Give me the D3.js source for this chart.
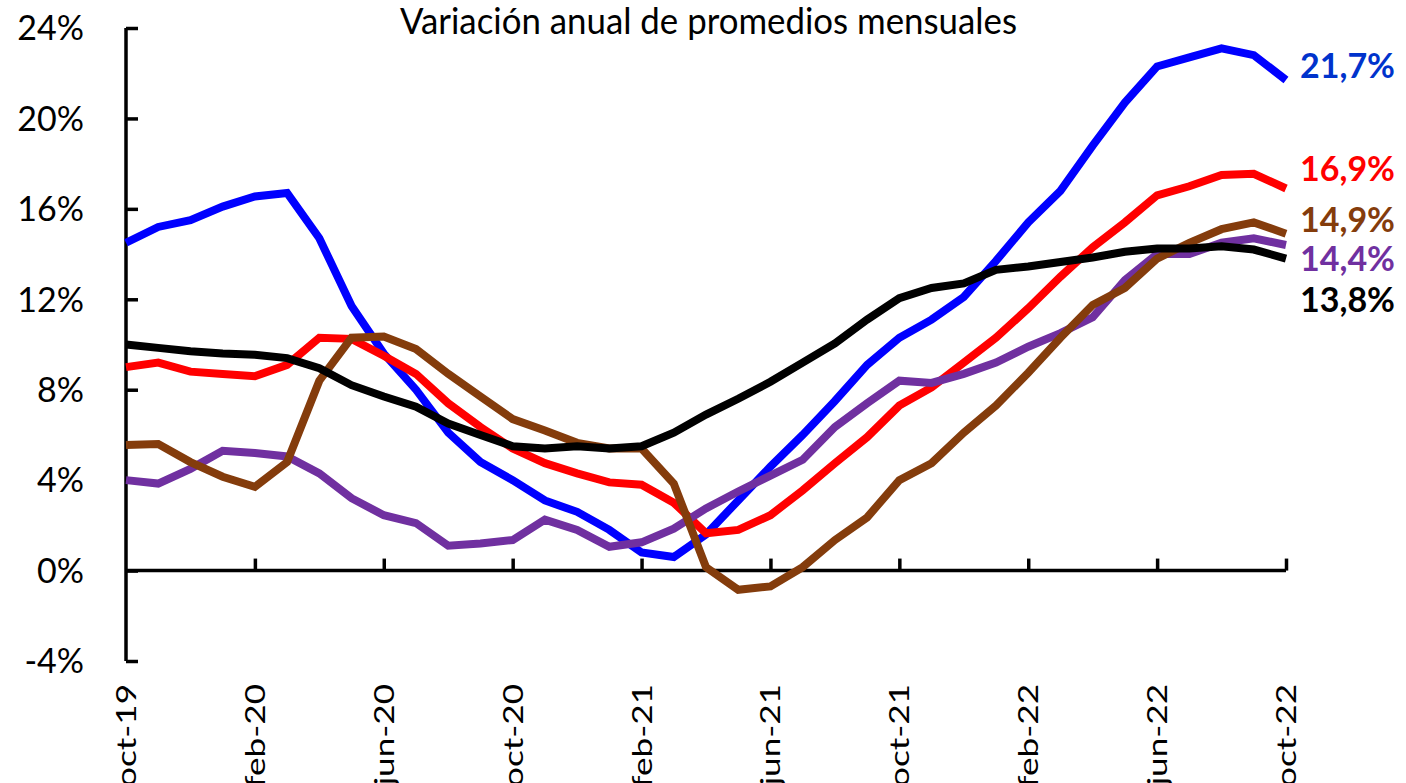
<!DOCTYPE html>
<html lang="es">
<head>
<meta charset="utf-8">
<script src="https://cdn.jsdelivr.net/npm/d3@7"></script>
<style>
  html, body { margin: 0; padding: 0; background: #fff; }
  svg { display: block; font-family: Lato, "Open Sans", sans-serif; }
</style>
</head>
<body>
<svg id="chart" width="1406" height="783"></svg>
<script>
// Meses (oct-19 a oct-22)
const meses = [
  "oct-19","nov-19","dic-19","ene-20","feb-20","mar-20","abr-20","may-20","jun-20","jul-20","ago-20","sep-20",
  "oct-20","nov-20","dic-20","ene-21","feb-21","mar-21","abr-21","may-21","jun-21","jul-21","ago-21","sep-21",
  "oct-21","nov-21","dic-21","ene-22","feb-22","mar-22","abr-22","may-22","jun-22","jul-22","ago-22","sep-22",
  "oct-22"
];

// Variación anual (%) de cada serie
const serieAzul = [14.5,15.2,15.5,16.1,16.55,16.7,14.7,11.7,9.6,8.0,6.1,4.8,4.0,3.1,2.6,1.8,0.8,0.6,1.6,3.1,4.6,6.0,7.5,9.1,10.3,11.1,12.1,13.7,15.4,16.8,18.8,20.7,22.3,22.7,23.1,22.8,21.7];
const serieRoja = [9.0,9.2,8.8,8.7,8.6,9.1,10.3,10.25,9.5,8.7,7.4,6.35,5.4,4.75,4.3,3.9,3.8,3.0,1.65,1.8,2.45,3.55,4.75,5.9,7.3,8.1,9.2,10.3,11.6,13.0,14.3,15.4,16.6,17.0,17.5,17.55,16.9];
const serieMarron = [5.55,5.6,4.8,4.15,3.7,4.8,8.4,10.3,10.35,9.8,8.7,7.7,6.7,6.2,5.65,5.4,5.4,3.85,0.15,-0.85,-0.7,0.15,1.35,2.35,4.0,4.75,6.1,7.3,8.75,10.3,11.75,12.5,13.8,14.5,15.1,15.4,14.9];
const serieVioleta = [4.0,3.85,4.5,5.3,5.2,5.05,4.3,3.2,2.45,2.1,1.1,1.2,1.35,2.25,1.8,1.05,1.25,1.85,2.75,3.5,4.2,4.9,6.35,7.4,8.4,8.3,8.7,9.2,9.9,10.5,11.2,12.85,14.0,14.0,14.5,14.7,14.4];
const serieNegra = [10.0,9.85,9.7,9.6,9.55,9.4,8.95,8.2,7.7,7.25,6.5,6.0,5.5,5.4,5.5,5.4,5.5,6.1,6.9,7.6,8.35,9.2,10.05,11.1,12.05,12.5,12.7,13.3,13.45,13.65,13.85,14.1,14.25,14.25,14.35,14.2,13.8];

// Marcas del eje Y (%) y etiquetas del eje X (cada 4 meses)
const ticksY = [-4,0,4,8,12,16,20,24];
const ticksX = ["oct-19","feb-20","jun-20","oct-20","feb-21","jun-21","oct-21","feb-22","jun-22","oct-22"];

const titulo = "Variación anual de promedios mensuales";

// Estilo y orden de dibujo (de abajo hacia arriba)
const series = [
  { valores: serieAzul,    color: "#0000ff", colorEtiqueta: "#0033cc", dy: -2 },
  { valores: serieRoja,    color: "#ff0000", colorEtiqueta: "#ff0000", dy: -8 },
  { valores: serieVioleta, color: "#7030a0", colorEtiqueta: "#7030a0", dy: 26 },
  { valores: serieMarron,  color: "#843c0c", colorEtiqueta: "#843c0c", dy: -2 },
  { valores: serieNegra,   color: "#000000", colorEtiqueta: "#000000", dy: 53 }
];

const svg = d3.select("#chart");

const x = d3.scalePoint().domain(meses).range([126, 1286]);
const y = d3.scaleLinear().domain([-4, 24]).range([661, 28]);

const fmtPct = v => d3.format(".1f")(v).replace(".", ",") + "%";

// Ajusta el ancho del texto a una fracción de su ancho natural
function estirar(sel, k) {
  sel.each(function () {
    const w = this.getComputedTextLength();
    d3.select(this).attr("textLength", w * k).attr("lengthAdjust", "spacingAndGlyphs");
  });
}

// Título
svg.append("text")
  .attr("x", 400).attr("y", 34)
  .attr("font-size", 37)
  .attr("fill", "#000")
  .attr("textLength", 617).attr("lengthAdjust", "spacingAndGlyphs")
  .text(titulo);

// Eje Y
const ejeY = svg.append("g").attr("transform", `translate(${x(meses[0])},0)`)
  .call(d3.axisRight(y).tickValues(ticksY).tickSize(12).tickFormat(""));
ejeY.select(".domain").attr("d", `M0,${y(24)}V${y(-4)}`).attr("stroke", "#000").attr("stroke-width", 3.5);
ejeY.selectAll(".tick line").attr("stroke", "#000").attr("stroke-width", 3.5);

svg.append("g").selectAll("text").data(ticksY).join("text")
  .attr("x", 84).attr("y", d => y(d))
  .attr("dy", "0.36em")
  .attr("text-anchor", "end")
  .attr("font-size", 34)
  .attr("fill", "#000")
  .text(d => d + "%");

// Eje X en 0%
const ejeX = svg.append("g").attr("transform", `translate(0,${y(0)})`)
  .call(d3.axisTop(x).tickValues(ticksX.slice(1)).tickSize(12).tickFormat(""));
ejeX.select(".domain").attr("d", `M${x(meses[0])},0H${x(meses[meses.length - 1])}`).attr("stroke", "#000").attr("stroke-width", 3.5);
ejeX.selectAll(".tick line").attr("stroke", "#000").attr("stroke-width", 3.5);

const etiquetasX = svg.append("g").selectAll("text").data(ticksX).join("text")
  .attr("transform", d => `translate(${x(d) + 10},684) rotate(-90)`)
  .attr("text-anchor", "end")
  .attr("font-size", 27)
  .attr("fill", "#000")
  .text(d => d);
estirar(etiquetasX, 1.3);

// Líneas
const linea = d3.line().x((d, i) => x(meses[i])).y(d => y(d));

svg.append("g").selectAll("path").data(series).join("path")
  .attr("d", s => linea(s.valores))
  .attr("fill", "none")
  .attr("stroke", s => s.color)
  .attr("stroke-width", 8)
  .attr("stroke-linejoin", "miter")
  .attr("stroke-linecap", "butt");

// Valores finales
svg.append("g").selectAll("text").data(series).join("text")
  .attr("x", 1300)
  .attr("y", s => y(s.valores[s.valores.length - 1]) + s.dy)
  .attr("font-size", 34)
  .attr("font-weight", "bold")
  .attr("fill", s => s.colorEtiqueta)
  .text(s => fmtPct(s.valores[s.valores.length - 1]));
</script>
</body>
</html>
